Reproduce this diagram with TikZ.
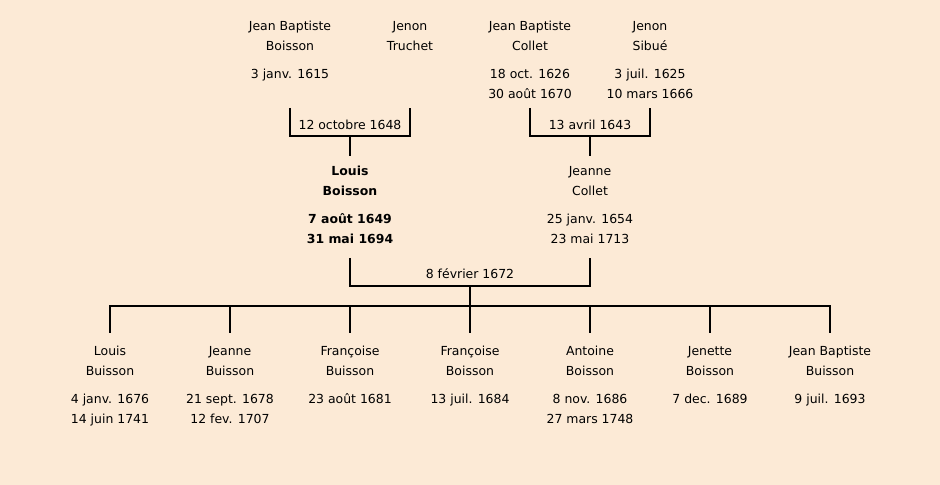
\documentclass[tikz,border=0pt]{standalone}
\usepackage{fontspec}
\setmainfont{DejaVu Sans}
\usetikzlibrary{positioning}
\definecolor{parchment}{HTML}{FCEAD6}

\tikzset{
	person/.style={align=center, anchor=north, inner sep=0pt, font=\fontsize{12.5}{20}\selectfont},
	wedding/.style={inner sep=1bp, font=\fontsize{12.5}{14}\selectfont},
	famline/.style={line width=1.8bp, black},
}

\begin{document}
\begin{tikzpicture}[x=1bp, y=-1bp]
	%background
	\fill[parchment] (0,0) rectangle (940,485);
	\useasboundingbox (0,0) rectangle (940,485);

	%grandparents
	\node[person] (gjbb) at (290,21) {Jean Baptiste\\Boisson\\[8bp]3 janv. 1615};
	\node[person] (gjt)  at (410,21) {Jenon\\Truchet};
	\node[person] (gjbc) at (530,21) {Jean Baptiste\\Collet\\[8bp]18 oct. 1626\\30 août 1670};
	\node[person] (gjs)  at (650,21) {Jenon\\Sibué\\[8bp]3 juil. 1625\\10 mars 1666};

	%parents
	\node[person,font=\fontsize{12.5}{20}\bfseries] (lb) at (350,166) {Louis\\Boisson\\[8bp]7 août 1649\\31 mai 1694};
	\node[person] (jc) at (590,166) {Jeanne\\Collet\\[8bp]25 janv. 1654\\23 mai 1713};

	%children
	\node[person] (c1) at (110,346) {Louis\\Buisson\\[8bp]4 janv. 1676\\14 juin 1741};
	\node[person] (c2) at (230,346) {Jeanne\\Buisson\\[8bp]21 sept. 1678\\12 fev. 1707};
	\node[person] (c3) at (350,346) {Françoise\\Buisson\\[8bp]23 août 1681};
	\node[person] (c4) at (470,346) {Françoise\\Boisson\\[8bp]13 juil. 1684};
	\node[person] (c5) at (590,346) {Antoine\\Boisson\\[8bp]8 nov. 1686\\27 mars 1748};
	\node[person] (c6) at (710,346) {Jenette\\Boisson\\[8bp]7 dec. 1689};
	\node[person] (c7) at (830,346) {Jean Baptiste\\Buisson\\[8bp]9 juil. 1693};

	%weddings
	\node[wedding] (w1648) at (350,125) {12 octobre 1648};
	\node[wedding] (w1643) at (590,125) {13 avril 1643};
	\node[wedding] (w1672) at (470,274) {8 février 1672};

	%bracket levels
	\coordinate (top1) at (0,108);
	\coordinate (bar1) at (0,136);
	\coordinate (drop1) at (0,156);
	\coordinate (top2) at (0,258);
	\coordinate (bar2) at (0,286);
	\coordinate (bar3) at (0,306);
	\coordinate (foot3) at (0,333);

	%lines
	\draw[famline] (gjbb |- top1) |- (w1648 |- bar1) -| (gjt |- top1);
	\draw[famline] (w1648 |- bar1) -- (lb |- drop1);
	\draw[famline] (gjbc |- top1) |- (w1643 |- bar1) -| (gjs |- top1);
	\draw[famline] (w1643 |- bar1) -- (jc |- drop1);
	\draw[famline] (lb |- top2) |- (w1672 |- bar2) -| (jc |- top2);
	\draw[famline] (w1672 |- bar2) -- (w1672 |- bar3);
	\draw[famline] (c1 |- foot3) |- (c7 |- bar3) -- (c7 |- foot3);
	\foreach \k in {c2,c3,c4,c5,c6}
		\draw[famline] (\k |- bar3) -- (\k |- foot3);
\end{tikzpicture}
\end{document}
